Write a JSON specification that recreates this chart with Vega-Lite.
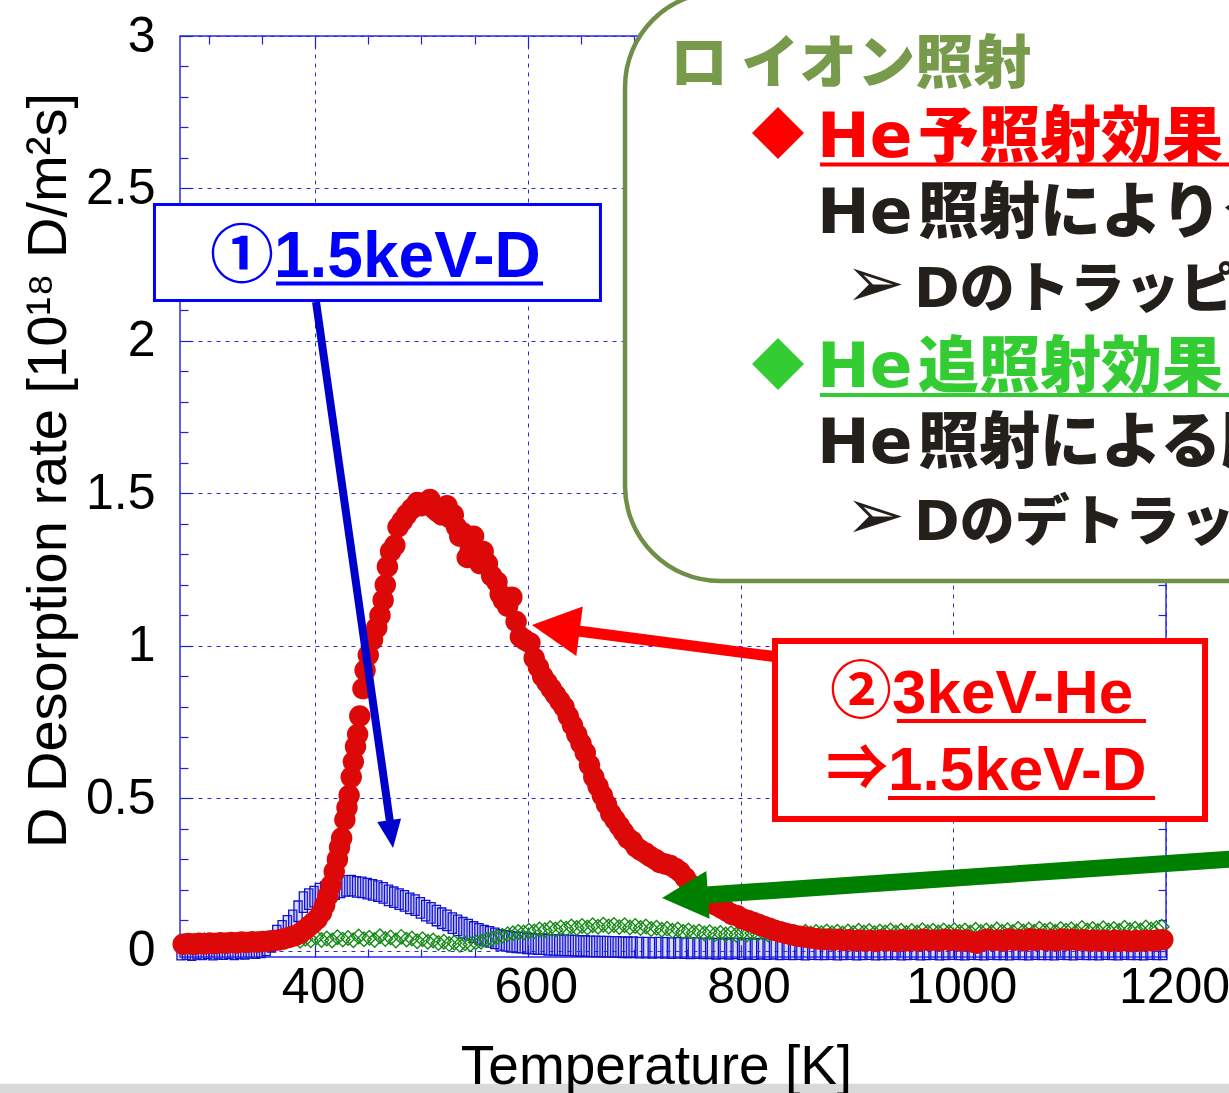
{
"$schema": "https://vega.github.io/schema/vega-lite/v6.json",
"width": 986, "height": 921,
"autosize": {"type": "none"},
"padding": {"left": 180, "top": 36, "right": 63, "bottom": 136},
"background": "white",
"config": {
 "view": {"stroke": "#2a2aee", "strokeWidth": 1.5},
 "axis": {"labelFont": "Liberation Sans", "titleFont": "Liberation Sans", "labelColor": "#000000", "titleColor": "#000000", "tickColor": "#1f1fe0", "tickWidth": 1.2, "domain": false, "labelFlush": false, "labelOverlap": false, "labelBound": false, "titleFontWeight": "normal", "grid": false}
},
"datasets": {
"blue": [{"T":274,"v":0.004},{"T":279,"v":0.006},{"T":284,"v":0.003},{"T":289,"v":0.007},{"T":294,"v":0.005},{"T":299,"v":0.008},{"T":304,"v":0.004},{"T":309,"v":0.007},{"T":314,"v":0.006},{"T":319,"v":0.009},{"T":324,"v":0.005},{"T":329,"v":0.008},{"T":334,"v":0.007},{"T":339,"v":0.01},{"T":344,"v":0.009},{"T":349,"v":0.012},{"T":354,"v":0.018},{"T":359,"v":0.03},{"T":364,"v":0.05},{"T":369,"v":0.066},{"T":374,"v":0.082},{"T":379,"v":0.1},{"T":384,"v":0.13},{"T":389,"v":0.16},{"T":394,"v":0.17},{"T":399,"v":0.178},{"T":404,"v":0.188},{"T":409,"v":0.193},{"T":414,"v":0.198},{"T":419,"v":0.203},{"T":424,"v":0.208},{"T":429,"v":0.213},{"T":434,"v":0.214},{"T":439,"v":0.21},{"T":444,"v":0.208},{"T":449,"v":0.204},{"T":454,"v":0.2},{"T":459,"v":0.196},{"T":464,"v":0.19},{"T":469,"v":0.182},{"T":474,"v":0.176},{"T":479,"v":0.17},{"T":484,"v":0.164},{"T":489,"v":0.156},{"T":494,"v":0.15},{"T":499,"v":0.141},{"T":504,"v":0.132},{"T":509,"v":0.125},{"T":514,"v":0.116},{"T":519,"v":0.107},{"T":524,"v":0.1},{"T":529,"v":0.091},{"T":534,"v":0.084},{"T":539,"v":0.076},{"T":544,"v":0.07},{"T":549,"v":0.062},{"T":554,"v":0.056},{"T":559,"v":0.05},{"T":564,"v":0.046},{"T":569,"v":0.041},{"T":574,"v":0.036},{"T":579,"v":0.033},{"T":584,"v":0.03},{"T":589,"v":0.028},{"T":594,"v":0.027},{"T":599,"v":0.025},{"T":604,"v":0.024},{"T":609,"v":0.022},{"T":614,"v":0.022},{"T":619,"v":0.02},{"T":624,"v":0.02},{"T":629,"v":0.019},{"T":634,"v":0.018},{"T":639,"v":0.018},{"T":644,"v":0.017},{"T":649,"v":0.016},{"T":654,"v":0.016},{"T":659,"v":0.015},{"T":664,"v":0.015},{"T":669,"v":0.014},{"T":674,"v":0.014},{"T":679,"v":0.013},{"T":684,"v":0.013},{"T":689,"v":0.012},{"T":694,"v":0.012},{"T":699,"v":0.012},{"T":705,"v":0.011},{"T":711,"v":0.011},{"T":717,"v":0.01},{"T":723,"v":0.011},{"T":729,"v":0.01},{"T":735,"v":0.009},{"T":741,"v":0.01},{"T":747,"v":0.009},{"T":753,"v":0.008},{"T":759,"v":0.009},{"T":765,"v":0.008},{"T":771,"v":0.008},{"T":777,"v":0.007},{"T":783,"v":0.008},{"T":789,"v":0.007},{"T":795,"v":0.008},{"T":801,"v":0.006},{"T":807,"v":0.007},{"T":813,"v":0.006},{"T":819,"v":0.007},{"T":825,"v":0.006},{"T":831,"v":0.007},{"T":837,"v":0.005},{"T":843,"v":0.006},{"T":849,"v":0.005},{"T":855,"v":0.006},{"T":861,"v":0.004},{"T":867,"v":0.006},{"T":873,"v":0.005},{"T":879,"v":0.005},{"T":885,"v":0.006},{"T":891,"v":0.004},{"T":897,"v":0.005},{"T":903,"v":0.006},{"T":909,"v":0.004},{"T":915,"v":0.005},{"T":921,"v":0.006},{"T":927,"v":0.004},{"T":933,"v":0.005},{"T":939,"v":0.005},{"T":945,"v":0.006},{"T":951,"v":0.004},{"T":957,"v":0.005},{"T":963,"v":0.006},{"T":969,"v":0.004},{"T":975,"v":0.005},{"T":981,"v":0.006},{"T":987,"v":0.004},{"T":993,"v":0.005},{"T":999,"v":0.006},{"T":1005,"v":0.005},{"T":1011,"v":0.004},{"T":1017,"v":0.006},{"T":1023,"v":0.005},{"T":1029,"v":0.004},{"T":1035,"v":0.006},{"T":1041,"v":0.005},{"T":1047,"v":0.005},{"T":1053,"v":0.004},{"T":1059,"v":0.006},{"T":1065,"v":0.005},{"T":1071,"v":0.004},{"T":1077,"v":0.006},{"T":1083,"v":0.005},{"T":1089,"v":0.005},{"T":1095,"v":0.004},{"T":1101,"v":0.006},{"T":1107,"v":0.005},{"T":1113,"v":0.004},{"T":1119,"v":0.006},{"T":1125,"v":0.005},{"T":1131,"v":0.005},{"T":1137,"v":0.004},{"T":1143,"v":0.006},{"T":1149,"v":0.005},{"T":1155,"v":0.004},{"T":1161,"v":0.006},{"T":1167,"v":0.005},{"T":1173,"v":0.005},{"T":1179,"v":0.004},{"T":1185,"v":0.006},{"T":1191,"v":0.005},{"T":1197,"v":0.005}],
"green": [{"T":276,"v":0.03},{"T":281,"v":0.026},{"T":286,"v":0.033},{"T":291,"v":0.028},{"T":296,"v":0.035},{"T":301,"v":0.029},{"T":306,"v":0.032},{"T":311,"v":0.027},{"T":316,"v":0.034},{"T":321,"v":0.03},{"T":326,"v":0.036},{"T":331,"v":0.028},{"T":336,"v":0.033},{"T":341,"v":0.031},{"T":346,"v":0.037},{"T":351,"v":0.03},{"T":356,"v":0.035},{"T":361,"v":0.032},{"T":366,"v":0.038},{"T":371,"v":0.03},{"T":376,"v":0.036},{"T":381,"v":0.042},{"T":386,"v":0.033},{"T":391,"v":0.04},{"T":396,"v":0.035},{"T":401,"v":0.044},{"T":406,"v":0.036},{"T":411,"v":0.041},{"T":416,"v":0.034},{"T":421,"v":0.045},{"T":426,"v":0.037},{"T":431,"v":0.042},{"T":436,"v":0.035},{"T":441,"v":0.047},{"T":446,"v":0.038},{"T":451,"v":0.043},{"T":456,"v":0.036},{"T":461,"v":0.048},{"T":466,"v":0.039},{"T":471,"v":0.044},{"T":476,"v":0.034},{"T":481,"v":0.046},{"T":486,"v":0.037},{"T":491,"v":0.041},{"T":496,"v":0.032},{"T":501,"v":0.038},{"T":506,"v":0.03},{"T":511,"v":0.034},{"T":516,"v":0.026},{"T":521,"v":0.03},{"T":526,"v":0.023},{"T":531,"v":0.027},{"T":536,"v":0.02},{"T":541,"v":0.025},{"T":546,"v":0.022},{"T":551,"v":0.028},{"T":556,"v":0.03},{"T":561,"v":0.036},{"T":566,"v":0.04},{"T":571,"v":0.046},{"T":576,"v":0.05},{"T":581,"v":0.055},{"T":586,"v":0.058},{"T":591,"v":0.062},{"T":596,"v":0.06},{"T":601,"v":0.066},{"T":606,"v":0.064},{"T":611,"v":0.07},{"T":616,"v":0.068},{"T":621,"v":0.074},{"T":626,"v":0.07},{"T":631,"v":0.077},{"T":636,"v":0.073},{"T":641,"v":0.08},{"T":646,"v":0.075},{"T":651,"v":0.082},{"T":656,"v":0.077},{"T":661,"v":0.084},{"T":666,"v":0.079},{"T":671,"v":0.086},{"T":676,"v":0.08},{"T":681,"v":0.085},{"T":686,"v":0.078},{"T":691,"v":0.084},{"T":696,"v":0.077},{"T":701,"v":0.082},{"T":706,"v":0.075},{"T":711,"v":0.08},{"T":716,"v":0.072},{"T":721,"v":0.076},{"T":726,"v":0.069},{"T":731,"v":0.073},{"T":736,"v":0.066},{"T":741,"v":0.07},{"T":746,"v":0.063},{"T":751,"v":0.067},{"T":756,"v":0.06},{"T":761,"v":0.064},{"T":766,"v":0.057},{"T":771,"v":0.061},{"T":776,"v":0.055},{"T":781,"v":0.059},{"T":786,"v":0.054},{"T":791,"v":0.058},{"T":796,"v":0.053},{"T":801,"v":0.058},{"T":806,"v":0.054},{"T":811,"v":0.059},{"T":816,"v":0.055},{"T":821,"v":0.06},{"T":826,"v":0.054},{"T":831,"v":0.059},{"T":836,"v":0.055},{"T":841,"v":0.061},{"T":846,"v":0.056},{"T":851,"v":0.062},{"T":856,"v":0.057},{"T":861,"v":0.063},{"T":866,"v":0.057},{"T":871,"v":0.062},{"T":876,"v":0.058},{"T":881,"v":0.064},{"T":886,"v":0.058},{"T":891,"v":0.063},{"T":896,"v":0.057},{"T":901,"v":0.064},{"T":906,"v":0.059},{"T":911,"v":0.066},{"T":916,"v":0.06},{"T":921,"v":0.065},{"T":926,"v":0.058},{"T":931,"v":0.064},{"T":936,"v":0.06},{"T":941,"v":0.067},{"T":946,"v":0.06},{"T":951,"v":0.066},{"T":956,"v":0.059},{"T":961,"v":0.065},{"T":966,"v":0.06},{"T":971,"v":0.068},{"T":976,"v":0.061},{"T":981,"v":0.066},{"T":986,"v":0.06},{"T":991,"v":0.067},{"T":996,"v":0.061},{"T":1001,"v":0.068},{"T":1006,"v":0.062},{"T":1011,"v":0.067},{"T":1016,"v":0.06},{"T":1021,"v":0.069},{"T":1026,"v":0.062},{"T":1031,"v":0.067},{"T":1036,"v":0.061},{"T":1041,"v":0.07},{"T":1046,"v":0.063},{"T":1051,"v":0.068},{"T":1056,"v":0.062},{"T":1061,"v":0.072},{"T":1066,"v":0.064},{"T":1071,"v":0.069},{"T":1076,"v":0.063},{"T":1081,"v":0.073},{"T":1086,"v":0.065},{"T":1091,"v":0.07},{"T":1096,"v":0.063},{"T":1101,"v":0.072},{"T":1106,"v":0.066},{"T":1111,"v":0.071},{"T":1116,"v":0.064},{"T":1121,"v":0.075},{"T":1126,"v":0.067},{"T":1131,"v":0.072},{"T":1136,"v":0.065},{"T":1141,"v":0.074},{"T":1146,"v":0.067},{"T":1151,"v":0.072},{"T":1156,"v":0.066},{"T":1161,"v":0.076},{"T":1166,"v":0.068},{"T":1171,"v":0.073},{"T":1176,"v":0.067},{"T":1181,"v":0.077},{"T":1186,"v":0.07},{"T":1191,"v":0.074},{"T":1196,"v":0.079}],
"red": [{"T":276,"v":0.022},{"T":281,"v":0.024},{"T":286,"v":0.021},{"T":291,"v":0.025},{"T":296,"v":0.023},{"T":301,"v":0.026},{"T":306,"v":0.024},{"T":311,"v":0.027},{"T":316,"v":0.025},{"T":321,"v":0.028},{"T":326,"v":0.026},{"T":331,"v":0.029},{"T":336,"v":0.028},{"T":341,"v":0.03},{"T":346,"v":0.029},{"T":351,"v":0.031},{"T":356,"v":0.032},{"T":361,"v":0.034},{"T":366,"v":0.036},{"T":371,"v":0.04},{"T":376,"v":0.045},{"T":381,"v":0.05},{"T":386,"v":0.058},{"T":390,"v":0.068},{"T":394,"v":0.08},{"T":398,"v":0.092},{"T":402,"v":0.105},{"T":406,"v":0.125},{"T":409,"v":0.15},{"T":412,"v":0.18},{"T":415,"v":0.215},{"T":418,"v":0.26},{"T":421,"v":0.3},{"T":423,"v":0.34},{"T":425,"v":0.37},{"T":428,"v":0.43},{"T":430,"v":0.47},{"T":432,"v":0.51},{"T":434,"v":0.57},{"T":436,"v":0.62},{"T":438,"v":0.67},{"T":440,"v":0.71},{"T":442,"v":0.77},{"T":445,"v":0.86},{"T":447,"v":0.92},{"T":450,"v":0.97},{"T":454,"v":1.02},{"T":458,"v":1.06},{"T":461,"v":1.1},{"T":464,"v":1.15},{"T":466,"v":1.2},{"T":468,"v":1.26},{"T":471,"v":1.31},{"T":475,"v":1.33},{"T":478,"v":1.39},{"T":482,"v":1.41},{"T":486,"v":1.43},{"T":491,"v":1.45},{"T":496,"v":1.47},{"T":500,"v":1.46},{"T":504,"v":1.47},{"T":508,"v":1.48},{"T":512,"v":1.45},{"T":515,"v":1.44},{"T":519,"v":1.43},{"T":524,"v":1.46},{"T":527,"v":1.42},{"T":530,"v":1.43},{"T":533,"v":1.39},{"T":536,"v":1.36},{"T":539,"v":1.37},{"T":543,"v":1.29},{"T":546,"v":1.32},{"T":549,"v":1.36},{"T":552,"v":1.3},{"T":555,"v":1.27},{"T":558,"v":1.31},{"T":562,"v":1.27},{"T":566,"v":1.23},{"T":571,"v":1.21},{"T":574,"v":1.17},{"T":577,"v":1.15},{"T":581,"v":1.13},{"T":585,"v":1.16},{"T":589,"v":1.08},{"T":593,"v":1.03},{"T":597,"v":1.02},{"T":602,"v":1.01},{"T":606,"v":0.96},{"T":610,"v":0.93},{"T":614,"v":0.9},{"T":618,"v":0.88},{"T":622,"v":0.86},{"T":626,"v":0.84},{"T":630,"v":0.82},{"T":634,"v":0.8},{"T":638,"v":0.77},{"T":642,"v":0.74},{"T":646,"v":0.71},{"T":650,"v":0.68},{"T":654,"v":0.65},{"T":658,"v":0.61},{"T":662,"v":0.57},{"T":666,"v":0.54},{"T":670,"v":0.51},{"T":674,"v":0.48},{"T":678,"v":0.45},{"T":682,"v":0.43},{"T":686,"v":0.41},{"T":690,"v":0.39},{"T":694,"v":0.37},{"T":698,"v":0.36},{"T":702,"v":0.34},{"T":706,"v":0.33},{"T":711,"v":0.32},{"T":715,"v":0.31},{"T":720,"v":0.3},{"T":724,"v":0.29},{"T":729,"v":0.285},{"T":734,"v":0.28},{"T":739,"v":0.27},{"T":743,"v":0.26},{"T":748,"v":0.24},{"T":752,"v":0.22},{"T":757,"v":0.2},{"T":762,"v":0.18},{"T":767,"v":0.17},{"T":772,"v":0.16},{"T":777,"v":0.15},{"T":782,"v":0.14},{"T":787,"v":0.13},{"T":792,"v":0.12},{"T":797,"v":0.115},{"T":802,"v":0.105},{"T":807,"v":0.1},{"T":812,"v":0.093},{"T":817,"v":0.087},{"T":822,"v":0.08},{"T":827,"v":0.074},{"T":832,"v":0.068},{"T":837,"v":0.063},{"T":842,"v":0.058},{"T":847,"v":0.054},{"T":852,"v":0.05},{"T":857,"v":0.047},{"T":862,"v":0.045},{"T":867,"v":0.042},{"T":872,"v":0.04},{"T":877,"v":0.037},{"T":882,"v":0.039},{"T":887,"v":0.035},{"T":892,"v":0.038},{"T":897,"v":0.034},{"T":902,"v":0.037},{"T":907,"v":0.033},{"T":912,"v":0.036},{"T":917,"v":0.032},{"T":922,"v":0.035},{"T":927,"v":0.031},{"T":932,"v":0.036},{"T":937,"v":0.033},{"T":942,"v":0.035},{"T":947,"v":0.031},{"T":952,"v":0.037},{"T":957,"v":0.033},{"T":962,"v":0.036},{"T":967,"v":0.032},{"T":972,"v":0.038},{"T":977,"v":0.034},{"T":982,"v":0.036},{"T":987,"v":0.033},{"T":992,"v":0.038},{"T":997,"v":0.034},{"T":1002,"v":0.037},{"T":1007,"v":0.032},{"T":1012,"v":0.036},{"T":1017,"v":0.03},{"T":1022,"v":0.025},{"T":1027,"v":0.033},{"T":1032,"v":0.038},{"T":1037,"v":0.034},{"T":1042,"v":0.036},{"T":1047,"v":0.032},{"T":1052,"v":0.039},{"T":1057,"v":0.035},{"T":1062,"v":0.037},{"T":1067,"v":0.033},{"T":1072,"v":0.04},{"T":1077,"v":0.035},{"T":1082,"v":0.038},{"T":1087,"v":0.034},{"T":1092,"v":0.037},{"T":1097,"v":0.033},{"T":1102,"v":0.039},{"T":1107,"v":0.035},{"T":1112,"v":0.038},{"T":1117,"v":0.034},{"T":1122,"v":0.037},{"T":1127,"v":0.033},{"T":1132,"v":0.036},{"T":1137,"v":0.032},{"T":1142,"v":0.035},{"T":1147,"v":0.031},{"T":1152,"v":0.035},{"T":1157,"v":0.032},{"T":1162,"v":0.034},{"T":1167,"v":0.031},{"T":1172,"v":0.034},{"T":1177,"v":0.032},{"T":1182,"v":0.035},{"T":1187,"v":0.033},{"T":1192,"v":0.036},{"T":1197,"v":0.037}]
},
"resolve": {"axis": {"x": "independent", "y": "independent"}},
"layer": [
 {"data": {"values": [{}]}, "mark": {"type": "rect", "color": "#d9d9d9"},
  "encoding": {
   "x": {"datum": 94, "type": "quantitative", "scale": {"domain": [273, 1200], "nice": false, "zero": false},
     "axis": {"orient": "bottom", "ticks": false, "labels": false, "grid": false, "title": "Temperature [K]", "titleFontSize": 55, "titleX": 476, "titleY": 126, "titleBaseline": "alphabetic", "titleAlign": "center", "zindex": 1}},
   "x2": {"datum": 1345},
   "y": {"datum": -0.436, "type": "quantitative", "scale": {"domain": [-0.02, 3], "nice": false, "zero": false},
     "axis": {"orient": "right", "values": [0.1,0.2,0.3,0.4,0.6,0.7,0.8,0.9,1.1,1.2,1.3,1.4,1.6,1.7,1.8,1.9,2.1,2.2,2.3,2.4,2.6,2.7,2.8,2.9], "labels": false, "tickSize": -8, "title": null}},
   "y2": {"datum": -0.5}
  }},
 {"data": {"name": "blue"}, "mark": {"type": "point", "shape": "M-0.4,-1H0.4V1H-0.4Z", "size": 420, "filled": true, "fill": "#5a5aee", "fillOpacity": 0.22, "stroke": "#1010d0", "strokeWidth": 1.3, "opacity": 1},
  "encoding": {
   "x": {"field": "T", "type": "quantitative", "scale": {"domain": [273, 1200], "nice": false, "zero": false},
     "axis": {"orient": "bottom", "values": [400, 600, 800, 1000, 1200], "format": "d", "grid": true, "gridColor": "#2a2ae0", "gridDash": [4, 5], "gridWidth": 1, "tickSize": -12, "labelFontSize": 50, "labelPadding": 17, "labelOffset": 8, "title": null}},
   "y": {"field": "v", "type": "quantitative", "scale": {"domain": [-0.02, 3], "nice": false, "zero": false},
     "axis": {"orient": "left", "values": [0, 0.5, 1, 1.5, 2, 2.5, 3], "format": "~g", "grid": true, "gridColor": "#2a2ae0", "gridDash": [4, 5], "gridWidth": 1, "tickSize": -12, "labelFontSize": 50, "labelPadding": 37, "title": "D Desorption rate [10¹⁸ D/m²s]", "titleFontSize": 56, "titleX": -115, "titleY": 434, "titleBaseline": "alphabetic", "titleAlign": "center", "titleAngle": 270}}
  }},
 {"data": {"name": "green"}, "mark": {"type": "point", "shape": "diamond", "size": 210, "filled": false, "color": "#168a16", "strokeWidth": 1.4, "opacity": 1},
  "encoding": {
   "x": {"field": "T", "type": "quantitative", "axis": {"orient": "top", "values": [400, 600, 800, 1000], "labels": false, "tickSize": -12, "title": null}},
   "y": {"field": "v", "type": "quantitative", "axis": {"orient": "right", "values": [0, 0.5, 1, 1.5, 2, 2.5], "labels": false, "tickSize": -12, "title": null}}
  }},
 {"data": {"name": "red"}, "mark": {"type": "circle", "size": 460, "color": "#dd0808", "opacity": 1},
  "encoding": {
   "x": {"field": "T", "type": "quantitative", "axis": {"orient": "bottom", "values": [300,350,450,500,550,650,700,750,850,900,950,1050,1100,1150], "labels": false, "tickSize": -8, "title": null}},
   "y": {"field": "v", "type": "quantitative", "axis": {"orient": "left", "values": [0.1,0.2,0.3,0.4,0.6,0.7,0.8,0.9,1.1,1.2,1.3,1.4,1.6,1.7,1.8,1.9,2.1,2.2,2.3,2.4,2.6,2.7,2.8,2.9], "labels": false, "tickSize": -8, "title": null}}
  }},
 {"data": {"values": [{}]}, "mark": {"type": "rect", "fill": "#ffffff", "stroke": "#0000ff", "strokeWidth": 3},
  "encoding": {"x": {"datum": 249.0, "type": "quantitative", "axis": null}, "x2": {"datum": 668.3}, "y": {"datum": 2.4475, "type": "quantitative", "axis": null}, "y2": {"datum": 2.1327}}},
 {"data": {"values": [{}]}, "mark": {"type": "rect", "fill": "#ffffff", "stroke": "#6f8f48", "strokeWidth": 4.5, "cornerRadius": 95},
  "encoding": {"x": {"datum": 691.4, "type": "quantitative", "axis": {"orient": "top", "values": [300,350,450,500,550,650,700,750,850,900,950,1050,1100,1150], "labels": false, "tickSize": -8, "title": null}}, "x2": {"datum": 1344.8}, "y": {"datum": 3.1443, "type": "quantitative", "axis": null}, "y2": {"datum": 1.2129}}},
 {"data": {"values": [{}]}, "mark": {"type": "rect", "fill": "#ffffff", "stroke": "#ff0000", "strokeWidth": 6},
  "encoding": {"x": {"datum": 832.4, "type": "quantitative", "axis": null}, "x2": {"datum": 1236.7}, "y": {"datum": 1.0162, "type": "quantitative", "axis": null}, "y2": {"datum": 0.4325}}},
 {"data": {"values": [{}]}, "mark": {"type": "rule", "color": "#0000cc", "strokeWidth": 8},
  "encoding": {"x": {"datum": 400.9, "type": "quantitative", "axis": null}, "x2": {"datum": 470.4}, "y": {"datum": 2.1278, "type": "quantitative", "axis": null}, "y2": {"datum": 0.4227}}},
 {"data": {"values": [{}]}, "mark": {"type": "point", "shape": "M0,0L-0.43,-1L0.43,-1Z", "size": 3136, "filled": true, "color": "#0000cc", "opacity": 1, "angle": -8},
  "encoding": {"x": {"datum": 473.3, "type": "quantitative", "axis": null}, "y": {"datum": 0.3374, "type": "quantitative", "axis": null}}},
 {"data": {"values": [{}]}, "mark": {"type": "rule", "color": "#ff0000", "strokeWidth": 11},
  "encoding": {"x": {"datum": 647.2, "type": "quantitative", "axis": null}, "x2": {"datum": 831.5}, "y": {"datum": 1.049, "type": "quantitative", "axis": null}, "y2": {"datum": 0.9654}}},
 {"data": {"values": [{}]}, "mark": {"type": "point", "shape": "M0,0L-0.52,-1L0.52,-1Z", "size": 9216, "filled": true, "color": "#ff0000", "opacity": 1, "angle": 97.5},
  "encoding": {"x": {"datum": 603.9, "type": "quantitative", "axis": null}, "y": {"datum": 1.0686, "type": "quantitative", "axis": null}}},
 {"data": {"values": [{}]}, "mark": {"type": "rule", "color": "#008000", "strokeWidth": 17},
  "encoding": {"x": {"datum": 767.5, "type": "quantitative", "axis": null}, "x2": {"datum": 1344.8}, "y": {"datum": 0.1833, "type": "quantitative", "axis": null}, "y2": {"datum": 0.321}}},
 {"data": {"values": [{}]}, "mark": {"type": "point", "shape": "M0,0L-0.52,-1L0.52,-1Z", "size": 8464, "filled": true, "color": "#008000", "opacity": 1, "angle": 86.1},
  "encoding": {"x": {"datum": 726.2, "type": "quantitative", "axis": null}, "y": {"datum": 0.1735, "type": "quantitative", "axis": null}}},
 {"data": {"values": [{}]}, "mark": {"type": "rule", "color": "#0000ff", "strokeWidth": 4},
  "encoding": {"x": {"datum": 363.3, "type": "quantitative", "axis": null}, "x2": {"datum": 614.3}, "y": {"datum": 2.1884, "type": "quantitative", "axis": null}}},
 {"data": {"values": [{}]}, "mark": {"type": "rule", "color": "#ff0000", "strokeWidth": 4},
  "encoding": {"x": {"datum": 874.7, "type": "quantitative", "axis": null}, "x2": {"datum": 1344.8}, "y": {"datum": 2.5786, "type": "quantitative", "axis": null}}},
 {"data": {"values": [{}]}, "mark": {"type": "rule", "color": "#33cc33", "strokeWidth": 4},
  "encoding": {"x": {"datum": 874.7, "type": "quantitative", "axis": null}, "x2": {"datum": 1344.8}, "y": {"datum": 1.8228, "type": "quantitative", "axis": null}}},
 {"data": {"values": [{}]}, "mark": {"type": "rule", "color": "#ff0000", "strokeWidth": 4},
  "encoding": {"x": {"datum": 947.1, "type": "quantitative", "axis": null}, "x2": {"datum": 1181.2}, "y": {"datum": 0.7539, "type": "quantitative", "axis": null}}},
 {"data": {"values": [{}]}, "mark": {"type": "rule", "color": "#ff0000", "strokeWidth": 4},
  "encoding": {"x": {"datum": 938.6, "type": "quantitative", "axis": null}, "x2": {"datum": 1189.7}, "y": {"datum": 0.5014, "type": "quantitative", "axis": null}}},
 {"data": {"values": [{}]}, "mark": {"type": "text", "text": "ロ イオン照射", "font": "Noto Sans CJK JP", "fontWeight": 900, "fontSize": 58, "color": "#779a4b", "align": "left", "baseline": "alphabetic"},
  "encoding": {"x": {"datum": 733.7, "type": "quantitative", "axis": null}, "y": {"datum": 2.8459, "type": "quantitative", "axis": null}}},
 {"data": {"values": [{}]}, "mark": {"type": "point", "shape": "diamond", "size": 2704, "filled": true, "color": "#ff0000", "opacity": 1},
  "encoding": {"x": {"datum": 835.2, "type": "quantitative", "axis": null}, "y": {"datum": 2.6819, "type": "quantitative", "axis": null}}},
 {"data": {"values": [{}]}, "mark": {"type": "text", "text": "He", "font": "DejaVu Sans", "fontWeight": "bold", "fontSize": 63, "color": "#ff0000", "align": "left", "baseline": "alphabetic"},
  "encoding": {"x": {"datum": 871.9, "type": "quantitative", "axis": null}, "y": {"datum": 2.6032, "type": "quantitative", "axis": null}}},
 {"data": {"values": [{}]}, "mark": {"type": "text", "text": "予照射効果", "font": "Noto Sans CJK JP", "fontWeight": 900, "fontSize": 61, "color": "#ff0000", "align": "left", "baseline": "alphabetic"},
  "encoding": {"x": {"datum": 966.8, "type": "quantitative", "axis": null}, "y": {"datum": 2.6032, "type": "quantitative", "axis": null}}},
 {"data": {"values": [{}]}, "mark": {"type": "text", "text": "He", "font": "DejaVu Sans", "fontWeight": "bold", "fontSize": 63, "color": "#231f1a", "align": "left", "baseline": "alphabetic"},
  "encoding": {"x": {"datum": 871.9, "type": "quantitative", "axis": null}, "y": {"datum": 2.354, "type": "quantitative", "axis": null}}},
 {"data": {"values": [{}]}, "mark": {"type": "text", "text": "照射によりク", "font": "Noto Sans CJK JP", "fontWeight": 900, "fontSize": 61, "color": "#231f1a", "align": "left", "baseline": "alphabetic"},
  "encoding": {"x": {"datum": 966.8, "type": "quantitative", "axis": null}, "y": {"datum": 2.354, "type": "quantitative", "axis": null}}},
 {"data": {"values": [{}]}, "mark": {"type": "text", "text": "➢", "font": "DejaVu Sans", "fontSize": 72, "color": "#231f1a", "align": "left", "baseline": "middle"},
  "encoding": {"x": {"datum": 898.2, "type": "quantitative", "axis": null}, "y": {"datum": 2.1835, "type": "quantitative", "axis": null}}},
 {"data": {"values": [{}]}, "mark": {"type": "text", "text": "Dのトラッピング", "font": "DejaVu Sans, Noto Sans CJK JP", "fontWeight": 900, "fontSize": 55, "color": "#231f1a", "align": "left", "baseline": "alphabetic"},
  "encoding": {"x": {"datum": 963.1, "type": "quantitative", "axis": null}, "y": {"datum": 2.1114, "type": "quantitative", "axis": null}}},
 {"data": {"values": [{}]}, "mark": {"type": "point", "shape": "diamond", "size": 2704, "filled": true, "color": "#33cc33", "opacity": 1},
  "encoding": {"x": {"datum": 835.2, "type": "quantitative", "axis": null}, "y": {"datum": 1.9245, "type": "quantitative", "axis": null}}},
 {"data": {"values": [{}]}, "mark": {"type": "text", "text": "He", "font": "DejaVu Sans", "fontWeight": "bold", "fontSize": 63, "color": "#33cc33", "align": "left", "baseline": "alphabetic"},
  "encoding": {"x": {"datum": 871.9, "type": "quantitative", "axis": null}, "y": {"datum": 1.8491, "type": "quantitative", "axis": null}}},
 {"data": {"values": [{}]}, "mark": {"type": "text", "text": "追照射効果", "font": "Noto Sans CJK JP", "fontWeight": 900, "fontSize": 61, "color": "#33cc33", "align": "left", "baseline": "alphabetic"},
  "encoding": {"x": {"datum": 966.8, "type": "quantitative", "axis": null}, "y": {"datum": 1.8491, "type": "quantitative", "axis": null}}},
 {"data": {"values": [{}]}, "mark": {"type": "text", "text": "He", "font": "DejaVu Sans", "fontWeight": "bold", "fontSize": 63, "color": "#231f1a", "align": "left", "baseline": "alphabetic"},
  "encoding": {"x": {"datum": 871.9, "type": "quantitative", "axis": null}, "y": {"datum": 1.5998, "type": "quantitative", "axis": null}}},
 {"data": {"values": [{}]}, "mark": {"type": "text", "text": "照射による脱", "font": "Noto Sans CJK JP", "fontWeight": 900, "fontSize": 61, "color": "#231f1a", "align": "left", "baseline": "alphabetic"},
  "encoding": {"x": {"datum": 966.8, "type": "quantitative", "axis": null}, "y": {"datum": 1.5998, "type": "quantitative", "axis": null}}},
 {"data": {"values": [{}]}, "mark": {"type": "text", "text": "➢", "font": "DejaVu Sans", "fontSize": 72, "color": "#231f1a", "align": "left", "baseline": "middle"},
  "encoding": {"x": {"datum": 898.2, "type": "quantitative", "axis": null}, "y": {"datum": 1.4228, "type": "quantitative", "axis": null}}},
 {"data": {"values": [{}]}, "mark": {"type": "text", "text": "Dのデトラップ", "font": "DejaVu Sans, Noto Sans CJK JP", "fontWeight": 900, "fontSize": 55, "color": "#231f1a", "align": "left", "baseline": "alphabetic"},
  "encoding": {"x": {"datum": 963.1, "type": "quantitative", "axis": null}, "y": {"datum": 1.3474, "type": "quantitative", "axis": null}}},
 {"data": {"values": [{}]}, "mark": {"type": "text", "text": "①1.5keV-D", "font": "Liberation Sans, Noto Sans CJK JP", "fontWeight": "bold", "fontSize": 64, "color": "#0000ff", "align": "left", "baseline": "alphabetic"},
  "encoding": {"x": {"datum": 301.2, "type": "quantitative", "axis": null}, "y": {"datum": 2.2098, "type": "quantitative", "axis": null}}},
 {"data": {"values": [{}]}, "mark": {"type": "text", "text": "②3keV-He", "font": "Liberation Sans, Noto Sans CJK JP", "fontWeight": "bold", "fontSize": 62, "color": "#ff0000", "align": "left", "baseline": "alphabetic"},
  "encoding": {"x": {"datum": 884.1, "type": "quantitative", "axis": null}, "y": {"datum": 0.7801, "type": "quantitative", "axis": null}}},
 {"data": {"values": [{}]}, "mark": {"type": "text", "text": "⇒", "font": "Noto Sans CJK JP", "fontWeight": "bold", "fontSize": 62, "color": "#ff0000", "align": "left", "baseline": "alphabetic"},
  "encoding": {"x": {"datum": 880.3, "type": "quantitative", "axis": null}, "y": {"datum": 0.5276, "type": "quantitative", "axis": null}}},
 {"data": {"values": [{}]}, "mark": {"type": "text", "text": "1.5keV-D", "font": "Liberation Sans", "fontWeight": "bold", "fontSize": 62, "color": "#ff0000", "align": "left", "baseline": "alphabetic"},
  "encoding": {"x": {"datum": 938.6, "type": "quantitative", "axis": null}, "y": {"datum": 0.5276, "type": "quantitative", "axis": null}}}
]
}
